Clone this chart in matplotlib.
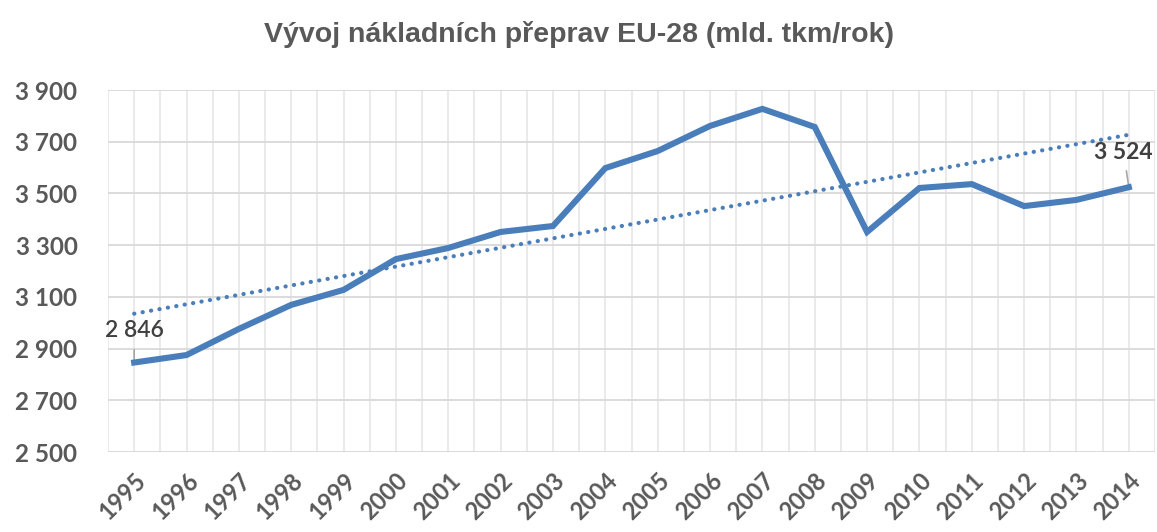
import matplotlib
matplotlib.use("Agg")
import matplotlib.pyplot as plt
import numpy as np

years = [str(y) for y in range(1995, 2015)]
values = [2846, 2875, 2976, 3069, 3127, 3246, 3289, 3351, 3374, 3598,
          3664, 3761, 3827, 3757, 3351, 3521, 3536, 3451, 3475, 3524]
yticks = [2500, 2700, 2900, 3100, 3300, 3500, 3700, 3900]
ytick_labels = ["2 500", "2 700", "2 900", "3 100", "3 300", "3 500", "3 700", "3 900"]

blue = "#4a7ebb"
grey = "#595959"

fig = plt.figure(figsize=(11.57, 5.32), dpi=100)
ax = fig.add_axes([108 / 1157, 1 - 452 / 532, (1155 - 108) / 1157, (452 - 90) / 532])

x = np.arange(len(years))
# trend line (linear fit, as in the Excel chart)
k, q = np.polyfit(x, values, 1)
ax.plot(x, k * x + q, color=blue, lw=3.0, linestyle=(0, (0.05, 2.0)),
        dash_capstyle="round", zorder=3)
ax.plot(x, values, color=blue, lw=4.4, solid_joinstyle="miter", zorder=4)

ax.set_xlim(-0.5, len(years) - 0.5)
ax.set_ylim(2500, 3900)
ax.set_yticks(yticks)
ax.set_yticklabels(ytick_labels)
ax.set_xticks(x)
ax.set_xticklabels(years, rotation=45, ha="right", rotation_mode="anchor")

# grid: horizontal at ticks, vertical at categories and between them
for yv in yticks[1:]:
    ax.axhline(yv, color="#d9d9d9", lw=1.3, zorder=1)
for xv in np.arange(-0.5, len(years), 0.5):
    ax.axvline(xv, color="#e8e8e8", lw=1.3, zorder=0)
ax.axhline(2500, color="#d0d0d0", lw=1.8, zorder=2)

for s in ax.spines.values():
    s.set_visible(False)
ax.tick_params(length=0)
for lab in ax.get_yticklabels():
    lab.set_fontfamily("Lato")
    lab.set_fontweight("bold")
    lab.set_fontsize(17.5)
    lab.set_color(grey)
ax.tick_params(axis="y", pad=22)
for lab in ax.get_xticklabels():
    lab.set_fontfamily("Lato")
    lab.set_fontweight("bold")
    lab.set_fontsize(17)
    lab.set_color(grey)
ax.tick_params(axis="x", pad=12)

# data labels with leader lines
ax.annotate("2 846", xy=(0, values[0]), xytext=(0, 2968), ha="center", va="center",
            fontsize=16.5, fontfamily="Lato", fontweight="semibold", color="#404040",
            arrowprops=dict(arrowstyle="-", color="#a6a6a6", lw=1.2, shrinkA=4, shrinkB=0))
ax.annotate("3 524", xy=(19, values[-1]), xytext=(18.9, 3660), ha="center", va="center",
            fontsize=16.5, fontfamily="Lato", fontweight="bold", color="#404040",
            arrowprops=dict(arrowstyle="-", color="#a6a6a6", lw=1.2, shrinkA=4, shrinkB=0))

fig.text(0.5, 1 - 35 / 532, "Vývoj nákladních přeprav EU-28 (mld. tkm/rok)",
         ha="center", va="center", fontsize=20.5, fontweight="bold",
         fontfamily="Liberation Sans", color=grey)

fig.savefig("out.png", dpi=100)
